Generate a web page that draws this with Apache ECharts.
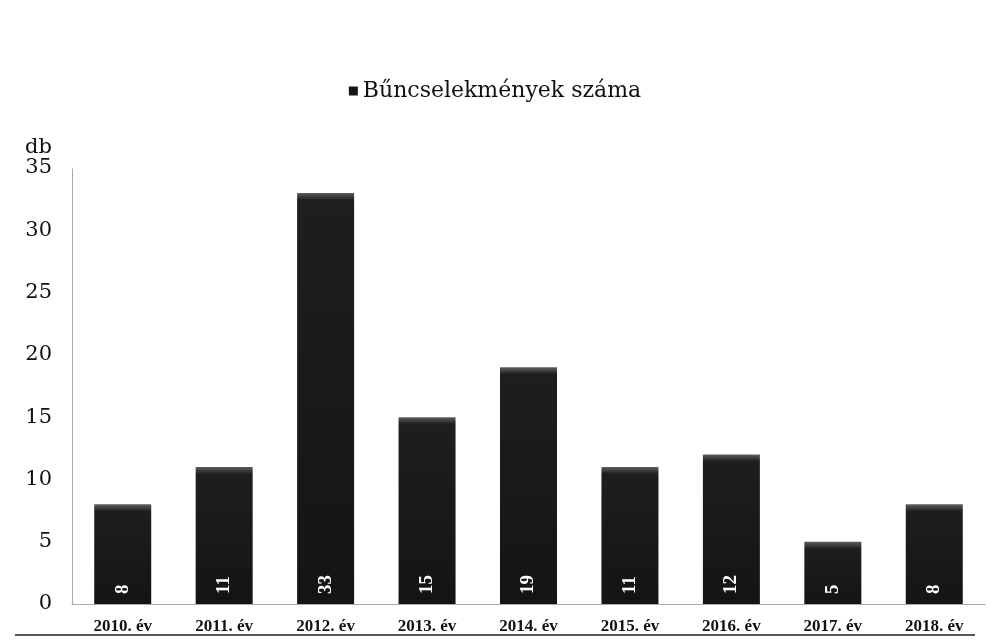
<!DOCTYPE html>
<html>
<head>
<meta charset="utf-8">
<script src="https://cdn.jsdelivr.net/npm/echarts@6/dist/echarts.min.js"></script>
<style>
	html, body { margin: 0; padding: 0; background: #fff; }
	#main { width: 990px; height: 641px; }
</style>
</head>
<body>
<div id="main"></div>
<script>
	// évek és bűncselekmények száma
	var years = ['2010. év', '2011. év', '2012. év', '2013. év', '2014. év', '2015. év', '2016. év', '2017. év', '2018. év'];
	var counts = [8, 11, 33, 15, 19, 11, 12, 5, 8];
	var seriesName = 'Bűncselekmények száma';

	var font = '"Liberation Serif", serif';
	var wideFont = '"DejaVu Serif", serif';
	var myChart = echarts.init(document.getElementById('main'));

	// a oszlop tetején egy kb. 7px-es világosabb sáv
	var pxPerUnit = 436 / 35;
	var barData = counts.map(function(v) {
		var o = Math.min(0.5, 7 / (v * pxPerUnit));
		return {
			value : v,
			itemStyle : {
				color : new echarts.graphic.LinearGradient(0, 0, 0, 1, [
					{ offset : 0, color : '#5e5e5e' },
					{ offset : o, color : '#1e1e1e' },
					{ offset : 1, color : '#141414' }
				])
			}
		};
	});

	var option = {
		backgroundColor : '#fff',
		animation : false,
		textStyle : { fontFamily : font },
		legend : {
			top : 75,
			left : 'center',
			itemWidth : 9,
			itemHeight : 9,
			itemGap : 6,
			icon : 'rect',
			data : [ seriesName ],
			textStyle : { color : '#111', fontSize : 22, fontFamily : wideFont }
		},
		grid : {
			left : 72,
			right : 5,
			top : 168,
			bottom : 37
		},
		xAxis : {
			type : 'category',
			data : years,
			axisTick : { show : false },
			axisLine : { lineStyle : { color : '#999', type : 'dotted', width : 1 } },
			axisLabel : {
				color : '#111',
				fontSize : 17,
				fontWeight : 'bold',
				fontFamily : font,
				margin : 14
			}
		},
		yAxis : {
			type : 'value',
			name : 'db',
			nameLocation : 'end',
			nameGap : 8,
			nameTextStyle : { color : '#111', fontSize : 21, fontFamily : wideFont, align : 'right', padding : [0, 20, 0, 0] },
			min : 0,
			max : 35,
			interval : 5,
			splitLine : { show : false },
			axisTick : { show : false },
			axisLine : { show : true, lineStyle : { color : '#999', type : 'dotted', width : 1 } },
			axisLabel : { color : '#111', fontSize : 21, fontFamily : wideFont, margin : 20 }
		},
		series : [ {
			name : seriesName,
			type : 'bar',
			data : barData,
			barWidth : 57,
			itemStyle : { color : '#141414' },
			label : {
				show : true,
				position : 'insideBottom',
				rotate : 90,
				align : 'left',
				verticalAlign : 'middle',
				distance : 10,
				color : '#fff',
				fontSize : 19,
				fontWeight : 'bold',
				fontFamily : font
			}
		} ],
		// aláhúzás a kategória feliratok alatt
		graphic : [ {
			type : 'line',
			shape : { x1 : 15, y1 : 635, x2 : 975, y2 : 635 },
			style : { stroke : '#222', lineWidth : 1.5 }
		} ]
	};
	myChart.setOption(option);
</script>
</body>
</html>
